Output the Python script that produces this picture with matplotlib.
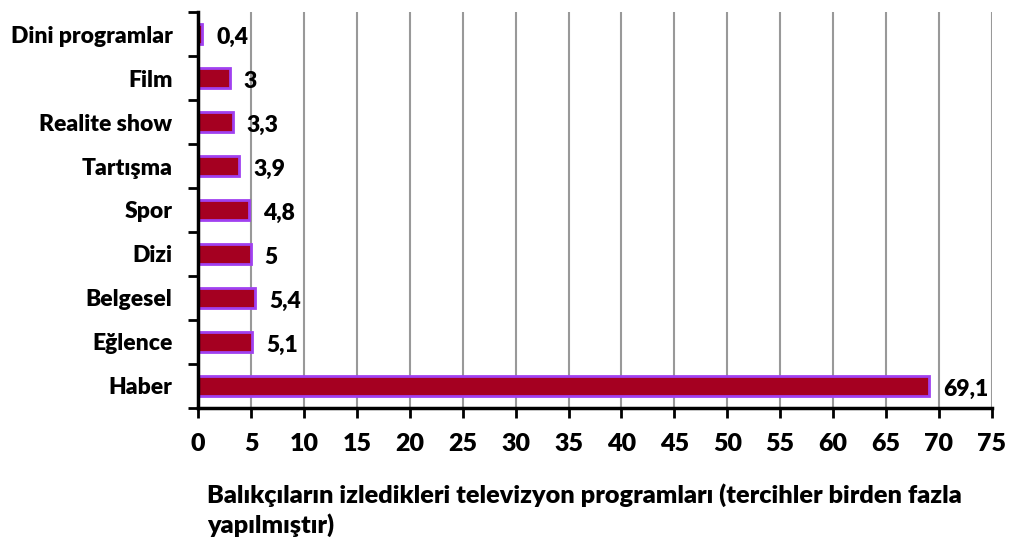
import numpy as np
import matplotlib.pyplot as plt

categories = ['Haber', 'Eğlence', 'Belgesel', 'Dizi', 'Spor', 'Tartışma',
              'Realite show', 'Film', 'Dini programlar']
values = [69.1, 5.1, 5.4, 5, 4.8, 3.9, 3.3, 3, 0.4]
labels = ['69,1', '5,1', '5,4', '5', '4,8', '3,9', '3,3', '3', '0,4']

plt.rcParams['font.family'] = ['Lato', 'DejaVu Sans']
plt.rcParams['font.weight'] = 'bold'

fig = plt.figure(figsize=(10.11, 5.49), dpi=100)
ax = fig.add_axes([0.196, 0.257, 0.785, 0.721])

y = np.arange(len(categories))
ax.barh(y, values, height=0.45, color='#A50021', edgecolor='#A040F0', linewidth=2, zorder=3)

for yi, v, lab in zip(y, values, labels):
    ax.text(v + 1.3, yi - 0.08, lab, va='center', ha='left', fontsize=16.5, fontweight='heavy', zorder=4)

ax.set_xlim(0, 75)
ax.set_ylim(-0.5, len(categories) - 0.5)
ax.set_xticks(np.arange(0, 80, 5))
ax.set_yticks(y)
ax.set_yticklabels(categories, fontsize=16.5, fontweight='heavy')
ax.tick_params(axis='y', length=0, pad=18.5)
ax.set_yticks(np.arange(-0.5, len(categories), 1), minor=True)
ax.tick_params(axis='y', which='minor', length=7, width=2)
ax.tick_params(axis='x', labelsize=18, length=7, width=2, pad=11)
for t in ax.get_xticklabels():
    t.set_fontweight('heavy')

ax.grid(axis='x', color='#999999', linewidth=1.5, zorder=0)
for s in ['top', 'right']:
    ax.spines[s].set_visible(False)
ax.spines['left'].set_linewidth(2.5)
ax.spines['bottom'].set_linewidth(2.5)
ax.spines['left'].set_zorder(5)

fig.text(207 / 1011, 1 - 510 / 549,
         'Balıkçıların izledikleri televizyon programları (tercihler birden fazla\nyapılmıştır)',
         ha='left', va='center', fontsize=18.2, fontweight='heavy', linespacing=1.3)

fig.savefig('out.png', dpi=100)
